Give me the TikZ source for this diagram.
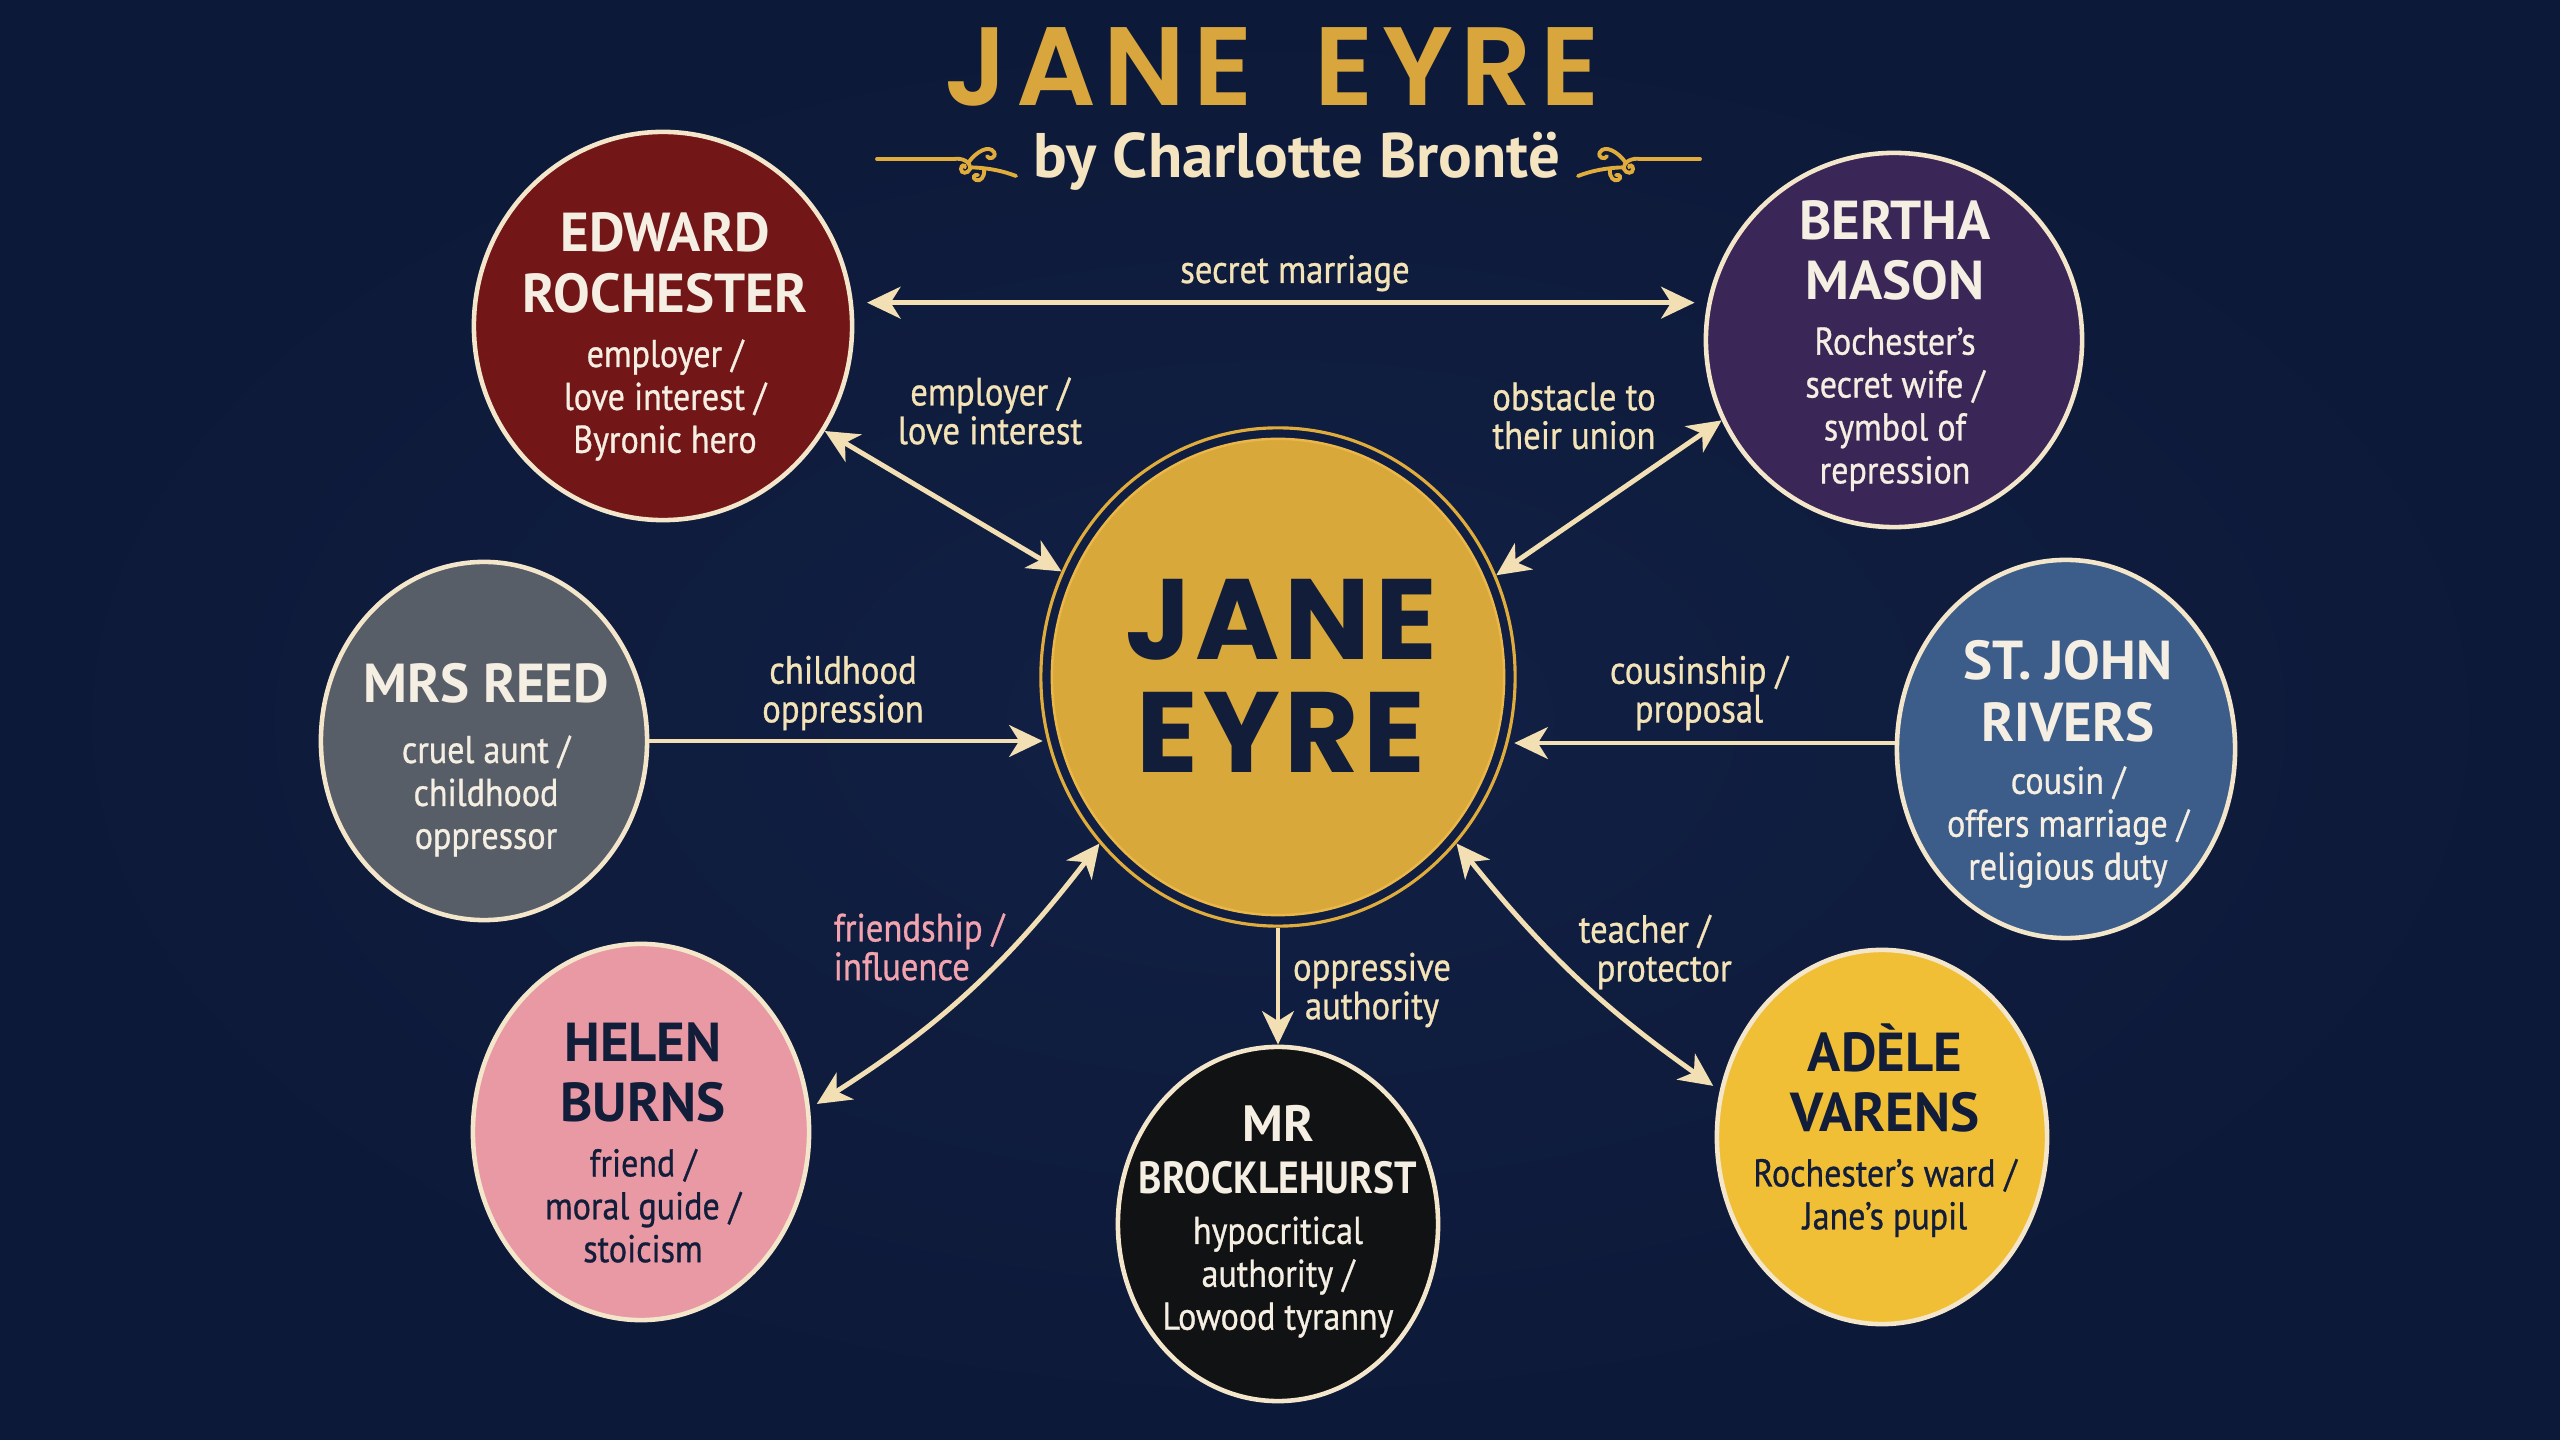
\documentclass[tikz,border=0pt]{standalone}
\usepackage{fontspec}
\usepackage{graphicx}
\setmainfont{PT Sans}
\newfontfamily\descfam[FakeStretch=0.88,FakeBold=0.8]{PT Sans}
\IfFontExistsTF{Poppins SemiBold}
  {\newfontfamily\titlefont[LetterSpace=7]{Poppins SemiBold}\def\titlewt{}}
  {\newfontfamily\titlefont[LetterSpace=7]{Poppins}\def\titlewt{\bfseries}}
\newfontfamily\janefont[LetterSpace=4]{Poppins}
\usetikzlibrary{shapes.geometric,arrows.meta}

\definecolor{bg}{HTML}{0D1938}
\definecolor{bgin}{HTML}{112045}
\definecolor{gold}{HTML}{D9A83B}
\definecolor{goldring}{HTML}{E0AC3C}
\definecolor{goldedge}{HTML}{EAB748}
\definecolor{titlegold}{HTML}{D8A63C}
\definecolor{cream}{HTML}{F2DFB4}
\definecolor{labelcol}{HTML}{F3E3B6}
\definecolor{subtitle}{HTML}{F4E4C0}
\definecolor{rim}{HTML}{F3E6CB}
\definecolor{lighttext}{HTML}{F5EEE2}
\definecolor{darktext}{HTML}{121D3A}
\definecolor{pinklabel}{HTML}{F2A3AE}
\definecolor{rochred}{HTML}{721618}
\definecolor{berthapurple}{HTML}{3B2757}
\definecolor{reedgray}{HTML}{585E68}
\definecolor{stjohnblue}{HTML}{3C5D89}
\definecolor{helenpink}{HTML}{E899A4}
\definecolor{brockblack}{HTML}{111214}
\definecolor{adeleyellow}{HTML}{F1BF36}

\newcommand\chname{\rmfamily\bfseries\fontsize{15.6}{17.2}\selectfont}
\newcommand\chdesc{\descfam\fontsize{11}{12.2}\selectfont}
\newcommand\lblfont{\descfam\fontsize{11.2}{11}\selectfont}

\tikzset{
  charnode/.style={ellipse, draw=rim, line width=1.3pt, inner sep=0pt},
  chtext/.style={align=center, inner sep=0pt, font=\chdesc, anchor=north},
  lbl/.style={align=center, inner sep=0pt, font=\lblfont, text=labelcol},
  tip/.tip={Stealth[length=9.5pt,width=9pt,inset=2.8pt]},
  conn/.style={draw=cream, line width=1.4pt, -tip},
  conntwo/.style={draw=cream, line width=1.4pt, tip-tip},
  ornament/.style={draw=goldring, line width=1.1pt, line cap=round},
  scroll/.pic={
    \draw[ornament] (0,0) .. controls (8,-1.4) and (17,2.8) .. (16,10)
                    .. controls (14,15) and (7,15) .. (7,10)
                    .. controls (7,5.6) and (11,5.6) .. (11,8.4);
    \draw[ornament] (14,4) .. controls (23,-8.4) and (35,-14) .. (40,-7)
                    .. controls (43,-1.4) and (35,1.4) .. (33,-2.8);
    \draw[ornament] (18,8.4) .. controls (35,9) and (49,12) .. (62,17);
    \draw[ornament] (30,11) .. controls (31,18) and (26,23) .. (22,21)
                    .. controls (18,19) and (20,15) .. (24,16);
  }
}

\begin{document}
\begin{tikzpicture}[x=0.01cm,y=-0.01cm]
\useasboundingbox (0,0) rectangle (2560,1440);
\shade[inner color=bgin, outer color=bg] (0,0) rectangle (2560,1440);

% title
\node[inner sep=0pt, anchor=base, text=titlegold, font={\titlefont\titlewt\fontsize{31.7}{34}\selectfont}] (title) at (1272,106) {JANE\hspace{0.25em} EYRE};
\node[inner sep=0pt, anchor=base, text=subtitle, font={\bfseries\fontsize{17.9}{19}\selectfont}] (subtitle) at (1297,178) {by Charlotte Brontë};
\coordinate (orlA) at (877,159);
\coordinate (orlB) at (954,159);
\coordinate (orrA) at (1700,159);
\coordinate (orrB) at (1640,159);
\draw[ornament] (orlA) -- (orlB);
\draw[ornament] (orrA) -- (orrB);
\pic at (orlB) {scroll};
\pic[xscale=-1] at (orrB) {scroll};

% centre
\node[ellipse, draw=goldring, line width=0.9pt, minimum width=4.74cm, minimum height=4.98cm, inner sep=0pt] (jane) at (1278,677) {};
\node[ellipse, fill=gold, draw=goldedge, line width=0.7pt, minimum width=4.52cm, minimum height=4.76cm, inner sep=0pt] (janedisk) at (jane.center) {};
\node[inner sep=0pt, align=center, anchor=north, text=darktext, font={\janefont\bfseries\fontsize{32.5}{31.9}\selectfont}] (janetext) at (1281,579) {JANE\\EYRE};

% characters
\node[charnode, fill=rochred, minimum width=3.78cm, minimum height=3.88cm] (rochester) at (663,326) {};
\node[chtext, text=lighttext] (rochestertext) at (665,212) {{\chname EDWARD}\\[5pt]{\chname ROCHESTER}\\[3.4pt]employer /\\love interest /\\Byronic hero};

\node[charnode, fill=berthapurple, minimum width=3.76cm, minimum height=3.74cm] (bertha) at (1894,340) {};
\node[chtext, text=lighttext] (berthatext) at (1895,200) {{\chname BERTHA}\\[4.9pt]{\chname MASON}\\[3.4pt]Rochester’s\\secret wife /\\symbol of\\repression};

\node[charnode, fill=reedgray, minimum width=3.26cm, minimum height=3.58cm] (reed) at (484,741) {};
\node[chtext, text=lighttext] (reedtext) at (486,663) {{\chname MRS REED}\\[4.9pt]cruel aunt /\\childhood\\oppressor};

\node[charnode, fill=stjohnblue, minimum width=3.38cm, minimum height=3.78cm] (stjohn) at (2066,749) {};
\node[chtext, text=lighttext] (stjohntext) at (2068,640) {{\chname ST.\ JOHN}\\[5.4pt]{\chname RIVERS}\\[2.6pt]cousin /\\offers marriage /\\religious duty};

\node[charnode, fill=helenpink, minimum width=3.36cm, minimum height=3.76cm] (helen) at (641,1132) {};
\node[chtext, text=darktext] (helentext) at (643,1022) {{\chname HELEN}\\[4.9pt]{\chname BURNS}\\[3.4pt]friend /\\moral guide /\\stoicism};

\node[charnode, fill=brockblack, minimum width=3.20cm, minimum height=3.54cm] (brock) at (1278,1224) {};
\node[chtext, text=lighttext] (brocktext) at (1278,1105) {{\rmfamily\bfseries\fontsize{14.5}{15}\selectfont MR}\\[2.6pt]{\rmfamily\bfseries\fontsize{12.8}{13}\selectfont\scalebox{0.88}[1]{BROCKLEHURST}}\\[2pt]hypocritical\\authority /\\Lowood tyranny};

\node[charnode, fill=adeleyellow, minimum width=3.30cm, minimum height=3.74cm] (adele) at (1882,1137) {};
\node[chtext, text=darktext] (adeletext) at (1885,1023) {{\chname ADÈLE}\\[4.9pt]{\chname VARENS}\\[3.4pt]Rochester’s ward /\\Jane’s pupil};

% connectors
\draw[conntwo, shorten <=0.14cm, shorten >=0.09cm] (rochester.7.1) -- (rochester.7.1 -| bertha.west);
\draw[conntwo] (rochester.-33.3) -- (jane.154.4);
\draw[conntwo] (bertha.205.7) -- (jane.25.8);
\draw[conn, shorten >=0.04cm] (reed.east) -- (reed.east -| jane.195.8);
\draw[conn, shorten >=0.05cm] (stjohn.178) -- (stjohn.178 -| jane.-15.8);
\draw[conntwo, shorten <=0.08cm, bend right=10] (helen.8.7) to (jane.223.5);
\draw[conn] (jane.south) -- (brock.north);
\draw[conntwo, shorten >=0.08cm, bend right=8] (jane.-43.4) to (adele.164.5);

% labels
\node[lbl, anchor=base] (lblsecret) at (1295,283) {secret marriage};
\node[lbl] (lblemployer) at (990,411) {employer /\\love interest};
\node[lbl] (lblobstacle) at (1574,416) {obstacle to\\their union};
\node[lbl] (lblchild) at (843,693) {childhood\\oppression};
\node[lbl] (lblcousin) at (1699,693) {cousinship /\\proposal};
\node[lbl, text=pinklabel, align=left, anchor=west] (lblfriend) at (833,947) {friendship /\\influence};
\node[lbl] (lbloppr) at (1372,990) {oppressive\\authority};
\node[lbl, align=left, anchor=west] (lblteacher) at (1578,952) {teacher /\\\hspace*{0.18cm}protector};
\end{tikzpicture}
\end{document}
